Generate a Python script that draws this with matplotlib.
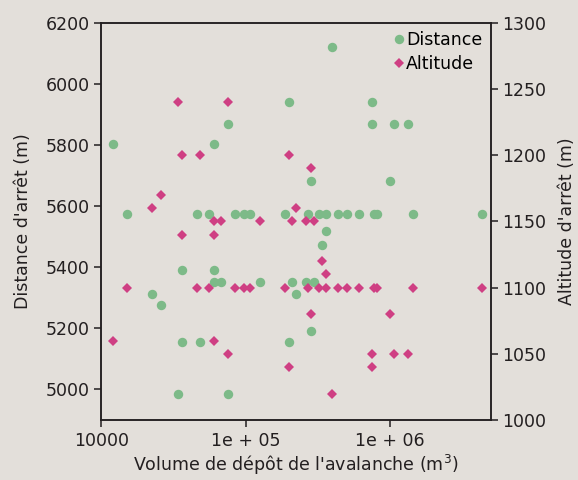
import matplotlib.pyplot as plt
from matplotlib.ticker import FixedLocator, FixedFormatter, NullLocator

# avalanche deposit volume (m3), stopping distance (m), stopping altitude (m)
volume = [12000, 15000, 22500, 26000, 34000, 36000, 36000, 46000, 48000, 56000,
          60000, 60000, 60000, 67500, 75000, 75000, 84000, 97500, 107000, 126000,
          189000, 200000, 200000, 211000, 225000, 263000, 272000, 282000, 282000,
          300000, 324000, 337000, 361000, 361000, 397000, 439000, 502000, 615000,
          752000, 752000, 776000, 814000, 1000000, 1068000, 1346000, 1439000, 4350000]
distance = [5802, 5573, 5311, 5275, 4986, 5156, 5390, 5573, 5156, 5573,
            5802, 5390, 5352, 5352, 5867, 4986, 5573, 5573, 5573, 5352,
            5573, 5942, 5156, 5352, 5311, 5352, 5573, 5682, 5191,
            5352, 5573, 5472, 5573, 5518, 6120, 5573, 5573, 5573,
            5942, 5867, 5573, 5573, 5682, 5867, 5867, 5573, 5573]
altitude = [1060, 1100, 1160, 1170, 1240, 1200, 1140, 1100, 1200, 1100,
            1150, 1140, 1060, 1150, 1240, 1050, 1100, 1100, 1100, 1150,
            1100, 1200, 1040, 1150, 1160, 1150, 1100, 1190, 1080,
            1150, 1100, 1120, 1100, 1110, 1020, 1100, 1100, 1100,
            1050, 1040, 1100, 1100, 1080, 1050, 1050, 1100, 1100]

xticks = [1e4, 1e5, 1e6]
xticklabels = ["10000", "1e + 05", "1e + 06"]

bg = "#e3dfda"
green = "#7dba88"
pink = "#cf3f83"
ink = "#231f20"

plt.rcParams["font.family"] = ["DejaVu Sans"]
fig = plt.figure(figsize=(5.78, 4.8), dpi=100, facecolor=bg)
ax = fig.add_axes([0.1753, 0.125, 0.6737, 0.8277])
ax.set_facecolor(bg)
ax2 = ax.twinx()

ax.plot(volume, distance, "o", color=green, markersize=6.8, markeredgewidth=0,
        label="Distance", zorder=3)
ax2.plot(volume, altitude, "D", color=pink, markersize=5.2, markeredgewidth=0,
         label="Altitude", zorder=3)

ax.set_xscale("log")
ax.set_xlim(1e4, 5e6)
ax.xaxis.set_major_locator(FixedLocator(xticks))
ax.xaxis.set_major_formatter(FixedFormatter(xticklabels))
ax.xaxis.set_minor_locator(NullLocator())

ax.set_ylim(4900, 6200)
ax.set_yticks([5000, 5200, 5400, 5600, 5800, 6000, 6200])
ax2.set_ylim(1000, 1300)
ax2.set_yticks([1000, 1050, 1100, 1150, 1200, 1250, 1300])

for a in (ax, ax2):
    for s in a.spines.values():
        s.set_color(ink)
        s.set_linewidth(1.1)
    a.tick_params(colors=ink, labelsize=12.5, length=5, width=1.1, direction="out")

ax.set_xlabel("Volume de dépôt de l'avalanche (m$^3$)", fontsize=12.5, color=ink, labelpad=2)
ax.set_ylabel("Distance d'arrêt (m)", fontsize=12.5, color=ink, labelpad=10)
ax2.set_ylabel("Altitude d'arrêt (m)", fontsize=12.5, color=ink, labelpad=8)

h1, l1 = ax.get_legend_handles_labels()
h2, l2 = ax2.get_legend_handles_labels()
ax2.legend(h1 + h2, l1 + l2, loc="upper right", frameon=False, fontsize=12.5,
           handlelength=0.6, handletextpad=0.1, labelspacing=0.3,
           borderaxespad=0.4, borderpad=0.1)

fig.savefig("out.png", dpi=100, facecolor=bg)
